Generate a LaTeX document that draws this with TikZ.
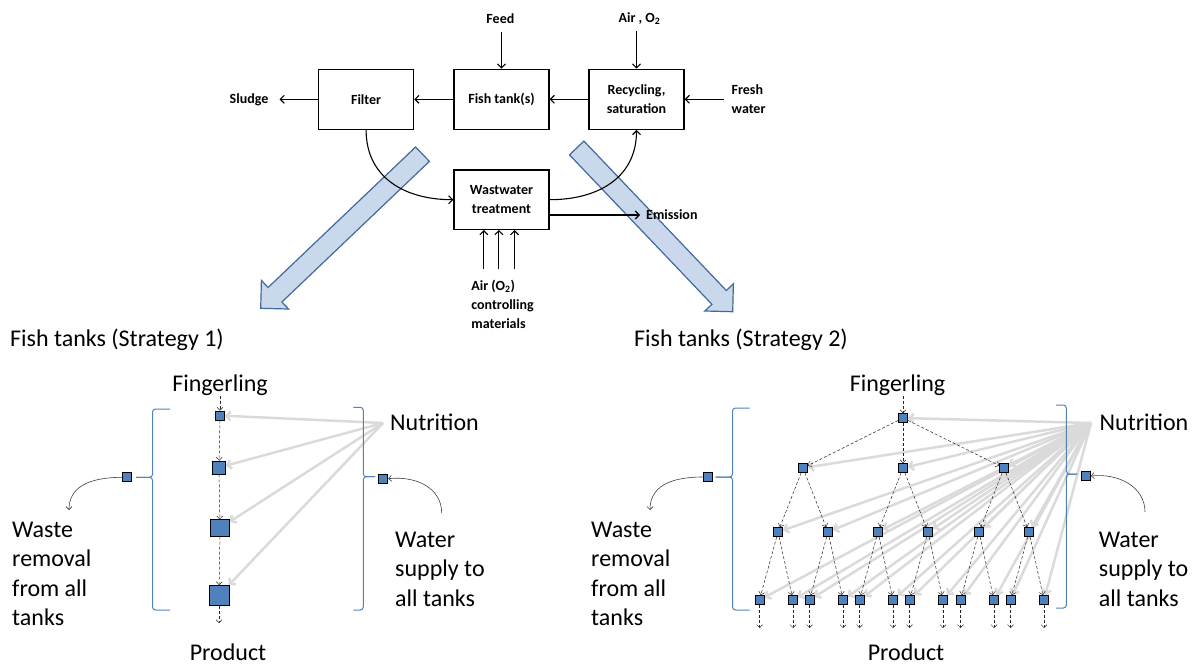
\documentclass[tikz,border=0pt]{standalone}
\usepackage{fontspec}
\setmainfont{Carlito}
\usepackage{tikz}
\usetikzlibrary{arrows.meta}
\usetikzlibrary{calc,backgrounds}
\definecolor{tankblue}{RGB}{79,129,189}
\definecolor{bigarrowfill}{RGB}{201,217,235}
\definecolor{bigarrowline}{RGB}{65,105,158}
\definecolor{nutrigray}{RGB}{218,218,218}

\begin{document}
\begin{tikzpicture}[x=1pt,y=-1pt,
    unit/.style={draw,line width=1.3pt,fill=white,minimum width=95pt,minimum height=60pt,align=center,inner sep=0pt,font=\fontsize{14}{19}\selectfont\bfseries},
    toplbl/.style={align=left,inner sep=0pt,font=\fontsize{14}{19}\selectfont\bfseries},
    flowarrow/.style={line width=1.1pt,-{Straight Barb[length=4pt,width=8pt]}},
    biglbl/.style={align=left,inner sep=0pt,font=\fontsize{24}{29.5}\selectfont},
    tank/.style={draw=black,fill=tankblue,line width=0.7pt,minimum size=9pt,inner sep=0pt},
    tankflow/.style={densely dashed,line width=0.5pt,draw=black!85,-{Straight Barb[length=3pt,width=6pt]}},
    nutri/.style={draw=nutrigray,line width=2.5pt,-{Straight Barb[length=4pt,width=9pt]}},
    bracket/.style={draw=tankblue,line width=1pt,rounded corners=3pt},
    sidecurve/.style={draw=black!75,line width=0.6pt,-{Straight Barb[length=3pt,width=6pt]}},
    bigarrow/.style={draw=bigarrowline,fill=bigarrowfill,line width=1.2pt,line join=miter}]
  \useasboundingbox (0,0) rectangle (1196,664);

  % the two big arrows
  \draw[bigarrow] (415.6,147.0) -- (268.1,287.5) -- (261.4,280.4) -- (260.7,308.3) -- (288.6,309.0) -- (281.9,302.0) -- (429.4,161.4) -- cycle;
  \draw[bigarrow] (583.9,141.1) -- (726.3,290.5) -- (733.4,283.8) -- (732.7,311.7) -- (704.8,311.0) -- (711.9,304.3) -- (569.5,154.9) -- cycle;

  % recirculating system
  \node[unit] (F) at (366.1,99.3) {Filter};
  \node[unit] (T) at (501.5,99.3) {Fish tank(s)};
  \node[unit] (R) at (636.5,99.3) {Recycling,\\saturation};
  \node[unit,minimum height=59.3pt] (W) at (501.5,199.7) {Wastwater\\treatment};
  \node[toplbl,anchor=east,inner xsep=11pt] (S) at (279.5,99.3) {Sludge};
  \node[toplbl] (Fd) at (500.4,19) {Feed};
  \node[toplbl] (A) at (639.5,19) {Air , O\textsubscript{2}};
  \node[toplbl,anchor=west,inner xsep=8pt] (Fw) at (723.5,99.3) {Fresh\\water};
  \node[toplbl,anchor=west,inner xsep=6pt] (E) at (640,215) {Emission};
  \node[toplbl,anchor=west] (Ac) at (471.2,304) {Air (O\textsubscript{2})\\controlling\\materials};

  \draw[flowarrow] (F.west) -- (S.east);
  \draw[flowarrow] (T.west) -- (F.east);
  \draw[flowarrow] (R.west) -- (T.east);
  \draw[flowarrow] (Fw.west) -- (R.east);
  \draw[flowarrow,shorten <=8pt] (T.north |- Fd.south) -- (T.north);
  \draw[flowarrow,shorten <=6pt] (A.south -| R.north) -- (R.north);
  \draw[flowarrow] (F.south) .. controls +(0,48) and +(-48,0) .. (W.west);
  \draw[flowarrow] (W.east) .. controls +(48,0) and +(0,48) .. (R.south);
  \draw[flowarrow] (W.east |- E.west) -- (E.west);
  \foreach \x [count=\i] in {483.8,498.9,514.5} {
    \coordinate (in\i) at (\x,269);
    \draw[flowarrow] (in\i) -- (in\i |- W.south);
  }

  % strategy 1
  \node[biglbl,anchor=west] (St1) at (10,340) {Fish tanks (Strategy 1)};
  \node[biglbl] (Fg1) at (220,385) {Fingerling};
  \node[tank] (t1) at (220,415.5) {};
  \node[tank,minimum width=12.5pt,minimum height=13pt] (t2) at (219,467.5) {};
  \node[tank,minimum width=18.5pt,minimum height=16.5pt] (t3) at (220,528) {};
  \node[tank,minimum size=20pt] (t4) at (219,595.5) {};
  \coordinate (o1) at (219,623);
  \node[biglbl] (P1) at (228,652) {Product};
  \node[biglbl,anchor=west] (N1) at (390,422) {Nutrition};
  \coordinate (n1) at (383,423);
  \node[tank] (wr1) at (127.3,477.3) {};
  \node[tank] (ws1) at (383.3,478.7) {};
  \node[biglbl,anchor=west] (WR1) at (12,574) {Waste\\removal\\from all\\tanks};
  \node[biglbl,anchor=west] (WS1) at (395,569) {Water\\supply to\\all tanks};
  \coordinate (wre1) at (69,510);
  \coordinate (wss1) at (441.7,513);
  \draw[bracket] (170,409) -| (152.5,477.3) -- (136,477.3);
  \draw[bracket] (170,610) -| (152.5,477.3) -- (136,477.3);
  \draw[bracket] (353.3,407.3) -| (363.3,476.7) -- (375,476.7);
  \draw[bracket] (353.3,610) -| (363.3,476.7) -- (375,476.7);
  \begin{scope}[on background layer]
    \foreach \n in {t1,t2,t3,t4}
      \draw[nutri] (n1) -- (\n);
    \draw[tankflow] (t1 |- Fg1.south) -- (t1);
    \draw[tankflow] (t1) -- (t2);
    \draw[tankflow] (t2) -- (t3);
    \draw[tankflow] (t3) -- (t4);
    \draw[tankflow] (t4) -- (o1);
  \end{scope}
  \draw[sidecurve] (wr1.west) .. controls +(-35,0) and +(0,-22) .. (wre1);
  \draw[sidecurve] (wss1) .. controls +(0,-25) and +(28,-3) .. (ws1.east);

  % strategy 2
  \node[biglbl,anchor=west] (St2) at (634,340) {Fish tanks (Strategy 2)};
  \node[biglbl] (Fg2) at (897.5,385) {Fingerling};
  \node[tank] (a) at (903,418) {};
  \foreach \x [count=\i] in {803,903,1004}
    \node[tank] (b\i) at (\x,468) {};
  \foreach \x [count=\i] in {778,828,878,928,979,1029} {
    \node[tank] (c\i) at (\x,532) {};
    \path (c\i) ++(-18.5,68) node[tank] (dl\i) {} ++(33.5,0) node[tank] (dr\i) {};
  }
  \node[biglbl] (P2) at (906,652) {Product};
  \node[biglbl,anchor=west] (N2) at (1099.5,422) {Nutrition};
  \coordinate (n2) at (1091,423);
  \node[tank] (wr2) at (707.7,477) {};
  \node[tank] (ws2) at (1086,476) {};
  \node[biglbl,anchor=west] (WR2) at (591,574) {Waste\\removal\\from all\\tanks};
  \node[biglbl,anchor=west] (WS2) at (1098.7,569) {Water\\supply to\\all tanks};
  \coordinate (wre2) at (650,510);
  \coordinate (wss2) at (1145,512);
  \draw[bracket] (749.7,408) -| (732.5,477) -- (715.6,477);
  \draw[bracket] (749.7,610) -| (732.5,477) -- (715.6,477);
  \draw[bracket] (1056,405) -| (1066.4,474) -- (1077,474);
  \draw[bracket] (1056,608) -| (1066.4,474) -- (1077,474);
  \begin{scope}[on background layer]
    \foreach \n in {a,b1,b2,b3,c1,c2,c3,c4,c5,c6,dl1,dr1,dl2,dr2,dl3,dr3,dl4,dr4,dl5,dr5,dl6,dr6}
      \draw[nutri] (n2) -- (\n);
    \draw[tankflow] (a |- Fg2.south) -- (a);
    \foreach \i in {1,2,3}
      \draw[tankflow] (a) -- (b\i);
    \foreach \i/\p in {1/1,2/1,3/2,4/2,5/3,6/3}
      \draw[tankflow] (b\p) -- (c\i);
    \foreach \i in {1,...,6} {
      \draw[tankflow] (c\i) -- (dl\i);
      \draw[tankflow] (c\i) -- (dr\i);
      \draw[tankflow] (dl\i) -- ++(0,28);
      \draw[tankflow] (dr\i) -- ++(0,28);
    }
  \end{scope}
  \draw[sidecurve] (wr2.west) .. controls +(-35,0) and +(0,-22) .. (wre2);
  \draw[sidecurve] (wss2) .. controls +(0,-25) and +(28,-3) .. (ws2.east);
\end{tikzpicture}
\end{document}
